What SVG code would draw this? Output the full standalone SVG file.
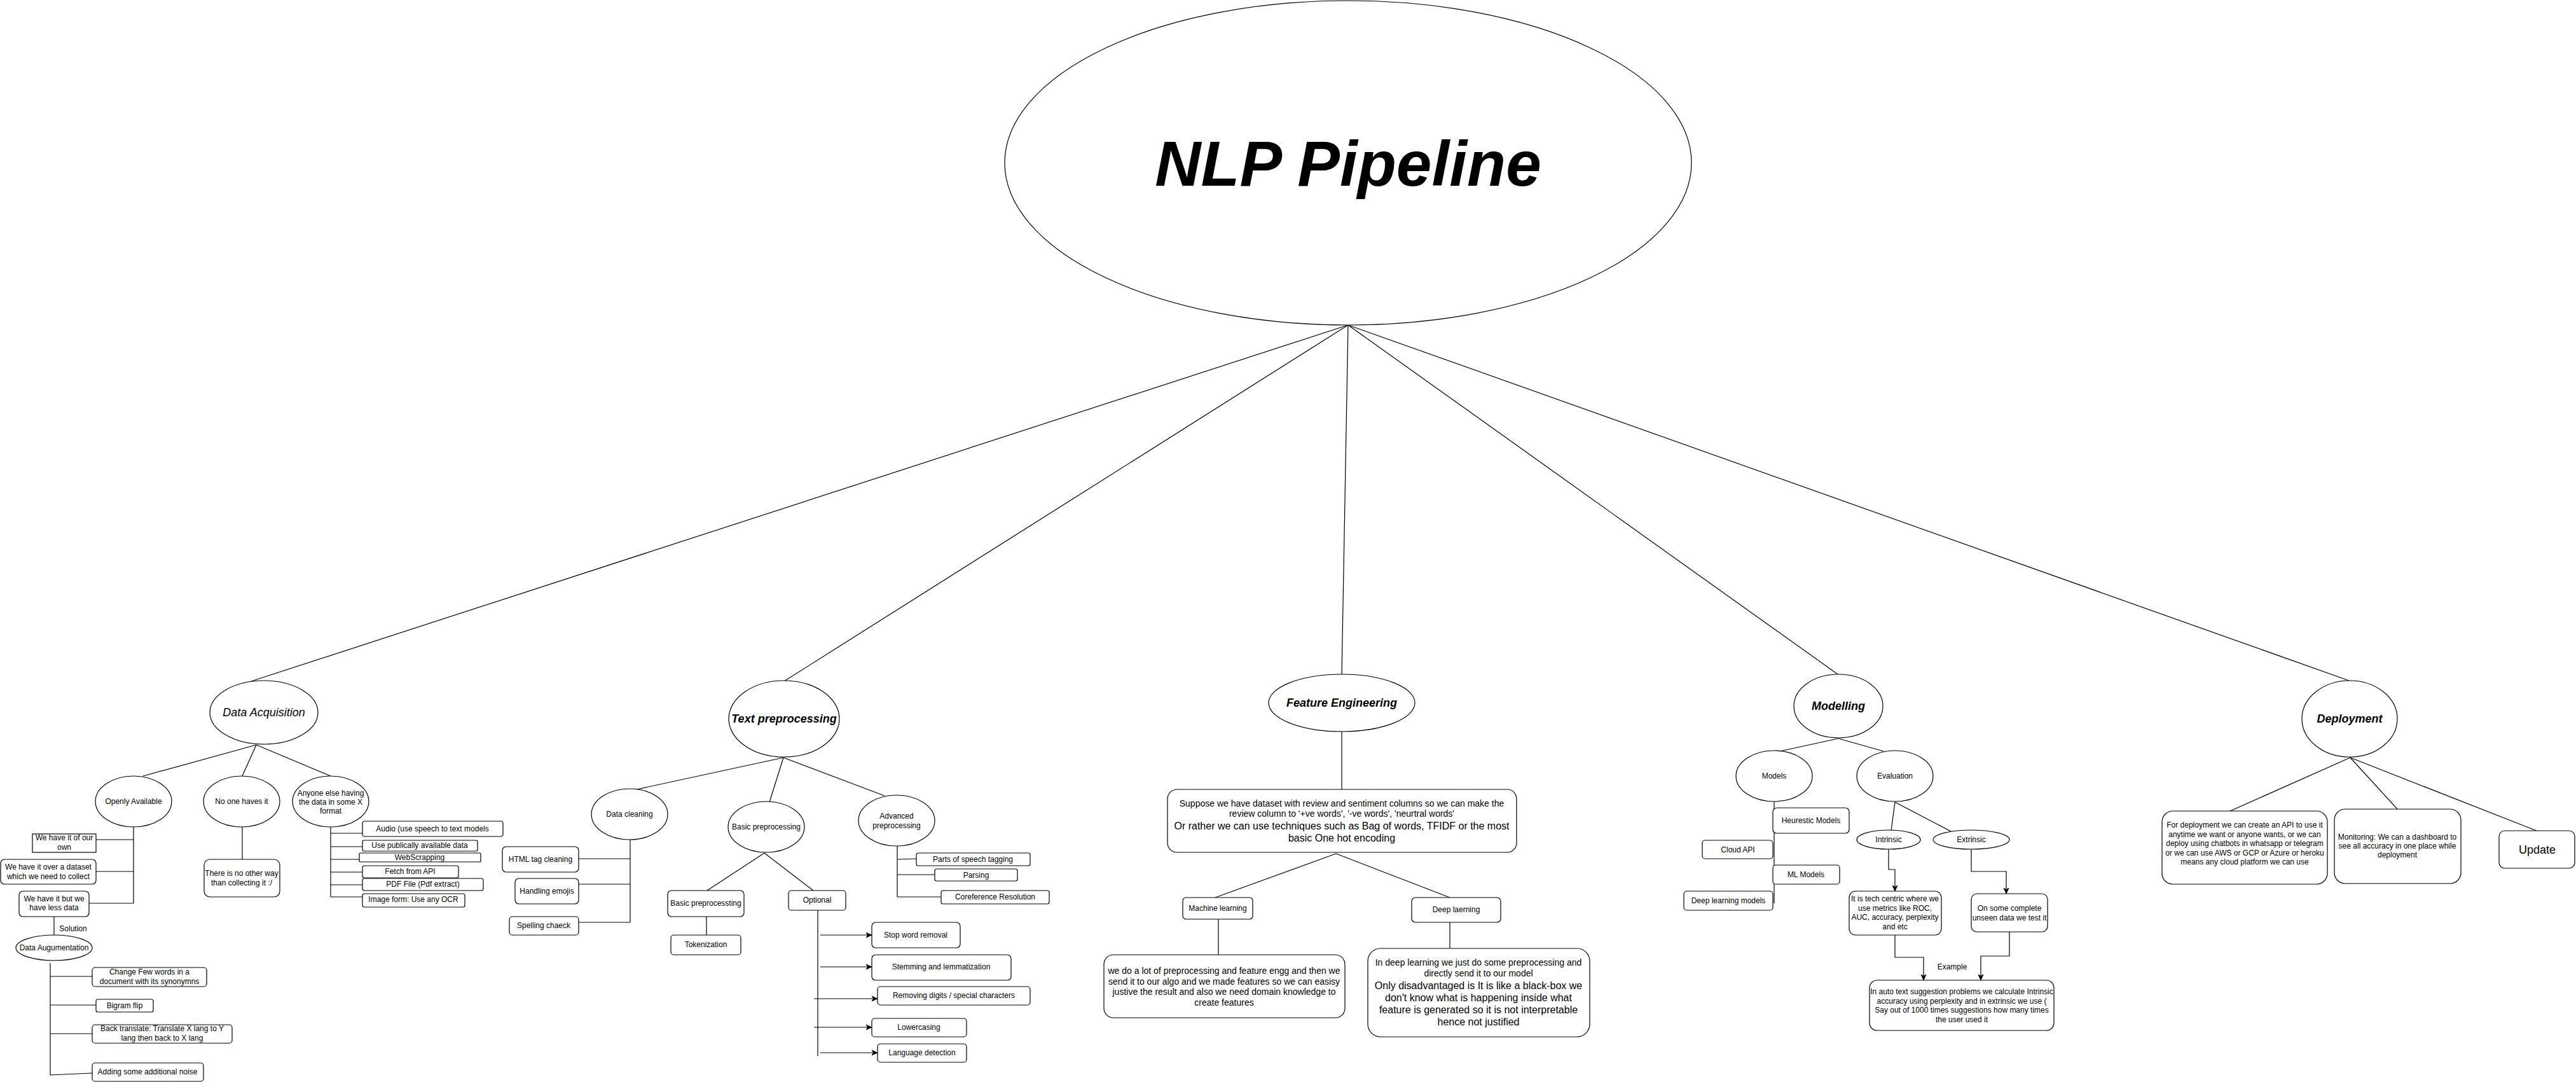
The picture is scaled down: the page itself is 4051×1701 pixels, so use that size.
<svg xmlns="http://www.w3.org/2000/svg" width="4051" height="1701" viewBox="0 0 4051 1701">
<style>
.n{fill:#fff;stroke:#000;stroke-width:1.2}
.c{fill:none;stroke:#000;stroke-width:1.2}
.a{fill:none;stroke:#000;stroke-width:1.2;marker-end:url(#arr)}
text{font-family:"Liberation Sans",Arial,Helvetica,sans-serif;fill:#000;text-anchor:middle}
.s12{font-size:12px}
.s14{font-size:14px}
.s16{font-size:16px}
.hd{font-size:18px;font-style:italic;font-weight:bold}
.hi{font-size:18px;font-style:italic}
.up{font-size:18px}
.ttl{font-size:100px;font-style:italic;font-weight:bold}
</style>
<defs>
<marker id="arr" markerUnits="userSpaceOnUse" markerWidth="10" markerHeight="10" refX="9" refY="5" orient="auto">
<path d="M0,1 L9,5 L0,9 L2.5,5 z" fill="#000" stroke="#000" stroke-width="0.8"/>
</marker>
</defs>
<rect width="4051" height="1701" fill="#fff"/>
<g id="connectors">
<line class="c" x1="2120" y1="511" x2="395" y2="1071"/>
<line class="c" x1="2120" y1="511" x2="1233" y2="1071"/>
<line class="c" x1="2120" y1="511" x2="2110" y2="1061"/>
<line class="c" x1="2120" y1="511" x2="2890" y2="1060"/>
<line class="c" x1="2120" y1="511" x2="3694" y2="1070"/>
<line class="c" x1="403" y1="1171" x2="225" y2="1220"/>
<line class="c" x1="403" y1="1171" x2="381" y2="1220"/>
<line class="c" x1="403" y1="1171" x2="520" y2="1220"/>
<line class="c" x1="210" y1="1300" x2="210" y2="1420"/>
<line class="c" x1="151" y1="1320" x2="210" y2="1320"/>
<line class="c" x1="151" y1="1370" x2="210" y2="1370"/>
<line class="c" x1="140" y1="1420" x2="210" y2="1420"/>
<line class="c" x1="85" y1="1441" x2="85" y2="1470"/>
<line class="c" x1="79" y1="1514" x2="79" y2="1690"/>
<line class="c" x1="79" y1="1535" x2="145" y2="1535"/>
<line class="c" x1="79" y1="1580" x2="151" y2="1580"/>
<line class="c" x1="79" y1="1625" x2="145" y2="1625"/>
<line class="c" x1="79" y1="1690" x2="145" y2="1687"/>
<line class="c" x1="381" y1="1300" x2="381" y2="1351"/>
<line class="c" x1="520" y1="1300" x2="520" y2="1410"/>
<line class="c" x1="520" y1="1310" x2="570" y2="1310"/>
<line class="c" x1="520" y1="1331" x2="570" y2="1331"/>
<line class="c" x1="520" y1="1351" x2="565" y2="1351"/>
<line class="c" x1="520" y1="1371" x2="570" y2="1371"/>
<line class="c" x1="520" y1="1391" x2="570" y2="1391"/>
<line class="c" x1="520" y1="1410" x2="570" y2="1410"/>
<line class="c" x1="1232" y1="1191" x2="1001" y2="1241"/>
<line class="c" x1="1232" y1="1191" x2="1210" y2="1261"/>
<line class="c" x1="1232" y1="1191" x2="1391" y2="1251"/>
<line class="c" x1="991" y1="1320" x2="991" y2="1450"/>
<line class="c" x1="910" y1="1350" x2="991" y2="1350"/>
<line class="c" x1="910" y1="1390" x2="991" y2="1390"/>
<line class="c" x1="910" y1="1450" x2="991" y2="1450"/>
<line class="c" x1="1202" y1="1341" x2="1112" y2="1400"/>
<line class="c" x1="1202" y1="1341" x2="1279" y2="1400"/>
<line class="c" x1="1111" y1="1441" x2="1111" y2="1470"/>
<line class="c" x1="1286" y1="1431" x2="1286" y2="1660"/>
<line class="a" x1="1290" y1="1470" x2="1371" y2="1470"/>
<line class="a" x1="1290" y1="1520" x2="1371" y2="1520"/>
<line class="a" x1="1280" y1="1570" x2="1380" y2="1570"/>
<line class="a" x1="1280" y1="1615" x2="1371" y2="1615"/>
<line class="a" x1="1290" y1="1655" x2="1380" y2="1655"/>
<line class="c" x1="1411" y1="1330" x2="1411" y2="1410"/>
<line class="c" x1="1411" y1="1351" x2="1441" y2="1350"/>
<line class="c" x1="1411" y1="1375" x2="1470" y2="1375"/>
<line class="c" x1="1411" y1="1410" x2="1480" y2="1410"/>
<line class="c" x1="2110" y1="1150" x2="2110" y2="1241"/>
<line class="c" x1="2101" y1="1342" x2="1911" y2="1411"/>
<line class="c" x1="2101" y1="1342" x2="2280" y2="1411"/>
<line class="c" x1="1916" y1="1445" x2="1916" y2="1501"/>
<line class="c" x1="2280" y1="1450" x2="2280" y2="1491"/>
<line class="c" x1="2891" y1="1161" x2="2799" y2="1181"/>
<line class="c" x1="2891" y1="1161" x2="2962" y2="1181"/>
<line class="c" x1="2790" y1="1260" x2="2790" y2="1420"/>
<line class="c" x1="2980" y1="1261" x2="2974" y2="1306"/>
<line class="c" x1="2980" y1="1261" x2="3068" y2="1307"/>
<path class="a" d="M2970,1335 V1367 H2980 V1401"/>
<path class="a" d="M3100,1335 V1370 H3155 V1405"/>
<path class="a" d="M2980,1470 V1505 H3025 V1541"/>
<path class="a" d="M3160,1465 V1503 H3115 V1541"/>
<text class="s12" x="3070" y="1524">Example</text>
<line class="c" x1="3696" y1="1191" x2="3507" y2="1275"/>
<line class="c" x1="3696" y1="1191" x2="3770" y2="1272"/>
<line class="c" x1="3696" y1="1191" x2="3989" y2="1306"/>
</g>
<g id="nlp-pipeline"><ellipse class="n" cx="2120" cy="256" rx="540" ry="255"/><text class="ttl" x="2120" y="292">NLP Pipeline</text></g>
<g id="data-acquisition"><ellipse class="n" cx="415" cy="1120" rx="85" ry="50"/><text class="hi" x="415" y="1126">Data Acquisition</text></g>
<g id="openly-available"><ellipse class="n" cx="210" cy="1260" rx="60" ry="40"/><text class="s12" x="210" y="1264">Openly Available</text></g>
<g id="no-one-haves-it"><ellipse class="n" cx="380" cy="1260" rx="60" ry="40"/><text class="s12" x="380" y="1264">No one haves it</text></g>
<g id="anyone-else"><ellipse class="n" cx="520" cy="1260" rx="60" ry="40"/><text class="s12" x="520" y="1251">Anyone else having<tspan x="520" dy="14">the data in some X</tspan><tspan x="520" dy="14">format</tspan></text></g>
<g id="own"><rect class="n" x="51" y="1311" width="100" height="29"/><text class="s12" x="101" y="1321">We have it of our<tspan x="101" dy="15">own</tspan></text></g>
<g id="over-dataset"><rect class="n" x="1" y="1351" width="150" height="39" rx="6"/><text class="s12" x="76" y="1367">We have it over a dataset<tspan x="76" dy="15">which we need to collect</tspan></text></g>
<g id="less-data"><rect class="n" x="30" y="1401" width="110" height="40" rx="6"/><text class="s12" x="85" y="1417">We have it but we<tspan x="85" dy="14">have less data</tspan></text></g>
<g id="solution-label"><text class="s12" x="115" y="1464">Solution</text></g>
<g id="data-augumentation"><ellipse class="n" cx="85" cy="1490" rx="60" ry="20"/><text class="s12" x="85" y="1494">Data Augumentation</text></g>
<g id="synonyms"><rect class="n" x="145" y="1521" width="180" height="30" rx="4.5"/><text class="s12" x="235" y="1532">Change Few words in a<tspan x="235" dy="15">document with its synonymns</tspan></text></g>
<g id="bigram"><rect class="n" x="151" y="1571" width="90" height="20" rx="3"/><text class="s12" x="196" y="1585">Bigram flip</text></g>
<g id="back-translate"><rect class="n" x="145" y="1611" width="220" height="29" rx="4.5"/><text class="s12" x="255" y="1621">Back translate: Translate X lang to Y<tspan x="255" dy="15">lang then back to X lang</tspan></text></g>
<g id="noise"><rect class="n" x="145" y="1671" width="175" height="29" rx="4.5"/><text class="s12" x="232" y="1689">Adding some additional noise</text></g>
<g id="no-other-way"><rect class="n" x="321" y="1351" width="119" height="59" rx="9"/><text class="s12" x="380" y="1377">There is no other way<tspan x="380" dy="15">than collecting it :/</tspan></text></g>
<g id="audio"><rect class="n" x="570" y="1291" width="221" height="24" rx="3.5"/><text class="s12" x="680" y="1307">Audio (use speech to text models</text></g>
<g id="public-data"><rect class="n" x="570" y="1321" width="181" height="17" rx="2.5"/><text class="s12" x="660" y="1333">Use publically available data</text></g>
<g id="webscrapping"><rect class="n" x="565" y="1341" width="191" height="14" rx="2"/><text class="s12" x="660" y="1352">WebScrapping</text></g>
<g id="fetch-api"><rect class="n" x="570" y="1361" width="151" height="19" rx="3"/><text class="s12" x="645" y="1374">Fetch from API</text></g>
<g id="pdf"><rect class="n" x="570" y="1381" width="190" height="19" rx="3"/><text class="s12" x="665" y="1394">PDF File (Pdf extract)</text></g>
<g id="ocr"><rect class="n" x="570" y="1405" width="161" height="21" rx="3"/><text class="s12" x="650" y="1418">Image form: Use any OCR</text></g>
<g id="text-preprocessing"><ellipse class="n" cx="1233" cy="1130" rx="87" ry="60"/><text class="hd" x="1233" y="1136">Text preprocessing</text></g>
<g id="data-cleaning"><ellipse class="n" cx="990" cy="1280" rx="60" ry="40"/><text class="s12" x="990" y="1284">Data cleaning</text></g>
<g id="basic-preprocessing"><ellipse class="n" cx="1205" cy="1300" rx="60" ry="40"/><text class="s12" x="1205" y="1304">Basic preprocessing</text></g>
<g id="advanced-preprocessing"><ellipse class="n" cx="1410" cy="1290" rx="60" ry="40"/><text class="s12" x="1410" y="1287">Advanced<tspan x="1410" dy="15">preprocessing</tspan></text></g>
<g id="html-tag"><rect class="n" x="790" y="1331" width="120" height="40" rx="6"/><text class="s12" x="850" y="1355">HTML tag cleaning</text></g>
<g id="emojis"><rect class="n" x="810" y="1381" width="100" height="40" rx="6"/><text class="s12" x="860" y="1405">Handling emojis</text></g>
<g id="spelling"><rect class="n" x="801" y="1441" width="109" height="29" rx="4.5"/><text class="s12" x="855" y="1459">Spelling chaeck</text></g>
<g id="basic-box"><rect class="n" x="1050" y="1400" width="120" height="41" rx="6"/><text class="s12" x="1110" y="1424">Basic preprocessting</text></g>
<g id="tokenization"><rect class="n" x="1055" y="1470" width="110" height="31" rx="4.5"/><text class="s12" x="1110" y="1489">Tokenization</text></g>
<g id="optional"><rect class="n" x="1240" y="1400" width="90" height="31" rx="4.5"/><text class="s12" x="1285" y="1419">Optional</text></g>
<g id="stop-word"><rect class="n" x="1371" y="1450" width="139" height="40" rx="6"/><text class="s12" x="1440" y="1474">Stop word removal</text></g>
<g id="stemming"><rect class="n" x="1371" y="1501" width="219" height="40" rx="6"/><text class="s12" x="1480" y="1524">Stemming and lemmatization</text></g>
<g id="digits"><rect class="n" x="1380" y="1551" width="240" height="29" rx="4.5"/><text class="s12" x="1500" y="1569">Removing digits / special characters</text></g>
<g id="lowercasing"><rect class="n" x="1371" y="1601" width="149" height="29" rx="4.5"/><text class="s12" x="1445" y="1619">Lowercasing</text></g>
<g id="language"><rect class="n" x="1380" y="1641" width="140" height="29" rx="4.5"/><text class="s12" x="1450" y="1659">Language detection</text></g>
<g id="pos"><rect class="n" x="1441" y="1341" width="179" height="20" rx="3"/><text class="s12" x="1530" y="1355">Parts of speech tagging</text></g>
<g id="parsing"><rect class="n" x="1470" y="1366" width="130" height="19" rx="3"/><text class="s12" x="1535" y="1380">Parsing</text></g>
<g id="coreference"><rect class="n" x="1480" y="1400" width="170" height="21" rx="3"/><text class="s12" x="1565" y="1414">Coreference Resolution</text></g>
<g id="feature-engineering"><ellipse class="n" cx="2110" cy="1105" rx="115" ry="45"/><text class="hd" x="2110" y="1111">Feature Engineering</text></g>
<g id="fe-box"><rect class="n" x="1836" y="1241" width="549" height="99" rx="15"/><text class="s14" x="2110" y="1268">Suppose we have dataset with review and sentiment columns so we can make the<tspan x="2110" dy="16">review column to '+ve words', '-ve words', 'neurtral words'</tspan></text><text class="s16" x="2110" y="1304">Or rather we can use techniques such as Bag of words, TFIDF or the most<tspan x="2110" dy="19">basic One hot encoding</tspan></text></g>
<g id="machine-learning"><rect class="n" x="1860" y="1411" width="110" height="34" rx="5"/><text class="s12" x="1915" y="1432">Machine learning</text></g>
<g id="deep-learning"><rect class="n" x="2220" y="1411" width="140" height="39" rx="6"/><text class="s12" x="2290" y="1434">Deep laerning</text></g>
<g id="ml-box"><rect class="n" x="1736" y="1501" width="379" height="99" rx="15"/><text class="s14" x="1925" y="1531">we do a lot of preprocessing and feature engg and then we<tspan x="1925" dy="16.5">send it to our algo and we made features so we can easisy</tspan><tspan x="1925" dy="16.5">justive the result and also we need domain knowledge to</tspan><tspan x="1925" dy="16.5">create features</tspan></text></g>
<g id="dl-box"><rect class="n" x="2151" y="1491" width="349" height="139" rx="20"/><text class="s14" x="2325" y="1518">In deep learning we just do some preprocessing and<tspan x="2325" dy="17">directly send it to our model</tspan></text><text class="s16" x="2325" y="1555">Only disadvantaged is It is like a black-box we<tspan x="2325" dy="19">don't know what is happening inside what</tspan><tspan x="2325" dy="19">feature is generated so it is not interpretable</tspan><tspan x="2325" dy="19">hence not justified</tspan></text></g>
<g id="modelling"><ellipse class="n" cx="2891" cy="1110" rx="70" ry="50"/><text class="hd" x="2891" y="1116">Modelling</text></g>
<g id="models"><ellipse class="n" cx="2790" cy="1220" rx="60" ry="40"/><text class="s12" x="2790" y="1224">Models</text></g>
<g id="evaluation"><ellipse class="n" cx="2980" cy="1220" rx="60" ry="40"/><text class="s12" x="2980" y="1224">Evaluation</text></g>
<g id="heurestic"><rect class="n" x="2788" y="1270" width="120" height="40" rx="6"/><text class="s12" x="2848" y="1294">Heurestic Models</text></g>
<g id="cloud-api"><rect class="n" x="2677" y="1321" width="111" height="29" rx="4.5"/><text class="s12" x="2733" y="1340">Cloud API</text></g>
<g id="ml-models"><rect class="n" x="2788" y="1360" width="105" height="30" rx="4.5"/><text class="s12" x="2840" y="1379">ML Models</text></g>
<g id="dl-models"><rect class="n" x="2648" y="1401" width="140" height="30" rx="4.5"/><text class="s12" x="2718" y="1420">Deep learning models</text></g>
<g id="intrinsic"><ellipse class="n" cx="2970" cy="1320" rx="50" ry="15"/><text class="s12" x="2970" y="1324">Intrinsic</text></g>
<g id="extrinsic"><ellipse class="n" cx="3100" cy="1320" rx="60" ry="15"/><text class="s12" x="3100" y="1324">Extrinsic</text></g>
<g id="tech-centric"><rect class="n" x="2908" y="1401" width="145" height="69" rx="10"/><text class="s12" x="2980" y="1417">It is tech centric where we<tspan x="2980" dy="14.7">use metrics like ROC,</tspan><tspan x="2980" dy="14.7">AUC, accuracy, perplexity</tspan><tspan x="2980" dy="14.7">and etc</tspan></text></g>
<g id="unseen"><rect class="n" x="3100" y="1405" width="120" height="60" rx="9"/><text class="s12" x="3160" y="1432">On some complete<tspan x="3160" dy="15">unseen data we test it</tspan></text></g>
<g id="auto-text"><rect class="n" x="2940" y="1541" width="290" height="79" rx="12"/><text class="s12" x="3085" y="1563">In auto text suggestion problems we calculate Intrinsic<tspan x="3085" dy="14.5">accuracy using perplexity and in extrinsic we use (</tspan><tspan x="3085" dy="14.5">Say out of 1000 times suggestions how many times</tspan><tspan x="3085" dy="14.5">the user used it</tspan></text></g>
<g id="deployment"><ellipse class="n" cx="3695" cy="1130" rx="75" ry="60"/><text class="hd" x="3695" y="1136">Deployment</text></g>
<g id="api-box"><rect class="n" x="3400" y="1275" width="260" height="115" rx="17"/><text class="s12" x="3530" y="1301">For deployment we can create an API to use it<tspan x="3530" dy="14.6">anytime we want or anyone wants, or we can</tspan><tspan x="3530" dy="14.6">deploy using chatbots in whatsapp or telegram</tspan><tspan x="3530" dy="14.6">or we can use AWS or GCP or Azure or heroku</tspan><tspan x="3530" dy="14.6">means any cloud platform we can use</tspan></text></g>
<g id="monitoring"><rect class="n" x="3671" y="1272" width="199" height="117" rx="17"/><text class="s12" x="3770" y="1320">Monitoring: We can a dashboard to<tspan x="3770" dy="14">see all accuracy in one place while</tspan><tspan x="3770" dy="14">deployment</tspan></text></g>
<g id="update"><rect class="n" x="3930" y="1306" width="119" height="59" rx="9"/><text class="up" x="3990" y="1342">Update</text></g>
</svg>
